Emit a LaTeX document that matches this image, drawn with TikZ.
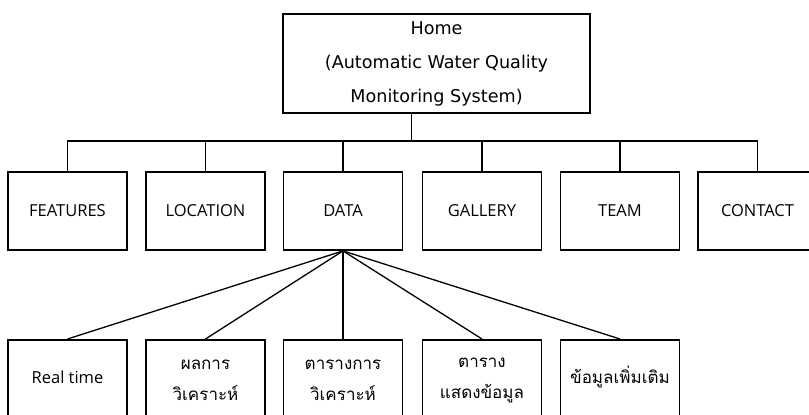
\documentclass[tikz,border=0pt]{standalone}
\usepackage{fontspec}
\setmainfont{Open Sans}
\newfontfamily\homefont{DejaVu Sans}
\newfontfamily\thaifont[Script=Thai]{Loma}
\usetikzlibrary{calc}

\tikzset{
  box/.style={draw, line width=1.8pt, minimum width=119pt, minimum height=78pt, inner sep=0pt},
  lowbox/.style={draw, line width=1.8pt, minimum width=119pt, minimum height=92pt, inner sep=0pt, anchor=north},
  wire/.style={line width=1.3pt},
  lbl/.style={align=center, font=\fontsize{16.5}{31}\selectfont},
  thlbl/.style={align=center, font=\thaifont\fontsize{17}{31}\selectfont},
}

\begin{document}
\begin{tikzpicture}[x=1pt,y=-1pt]
\useasboundingbox (0,0) rectangle (809,415);
\clip (0,0) rectangle (809,415);

% root page
\node[box, minimum width=307pt, minimum height=99pt, align=center,
      font=\homefont\fontsize{17.6}{34}\selectfont] (home) at (436.5,63.5)
  {Home\\(Automatic Water Quality\\Monitoring System)};

% main menu
\node[box, lbl] (feat)    at (67.5,211)  {FEATURES};
\node[box, lbl] (loc)     at (205.5,211) {LOCATION};
\node[box, lbl] (data)    at (343,211)   {DATA};
\node[box, lbl] (gallery) at (482,211)   {GALLERY};
\node[box, lbl] (team)    at (620,211)   {TEAM};
\node[box, lbl] (contact) at (757.5,211) {CONTACT};

% DATA sub pages
\node[lowbox] (rt)   at (67.5,339)  {};
\node[lowbox] (res)  at (205.5,339) {};
\node[lowbox] (tab)  at (343,339)   {};
\node[lowbox] (show) at (482,339)   {};
\node[lowbox] (more) at (620,339)   {};

\node[lbl]   (rtt)   at (67.5,377)  {Real time};
\node[thlbl] (rest)  at (205.5,380) {ผลการ\\วิเคราะห์};
\node[thlbl] (tabt)  at (343,380)   {ตารางการ\\วิเคราะห์};
\node[thlbl] (showt) at (482,380)   {ตาราง\\แสดงข้อมูล};
\node[thlbl] (moret) at (620,377)   {ข้อมูลเพิ่มเติม};

% tree connectors
\coordinate (busline) at (0,141);
\coordinate (homeport) at ($(home.south west)!0.42!(home.south east)$);
\draw[wire] (homeport) -- (homeport |- busline);
\draw[wire] (feat.north) -- (feat.north |- busline) -- (contact.north |- busline) -- (contact.north);
\foreach \n in {loc,data,gallery,team}
  \draw[wire] (\n.north) -- (\n.north |- busline);

\foreach \n in {rt,res,tab,show,more}
  \draw[wire] (data.south) -- (\n.north);
\end{tikzpicture}
\end{document}
